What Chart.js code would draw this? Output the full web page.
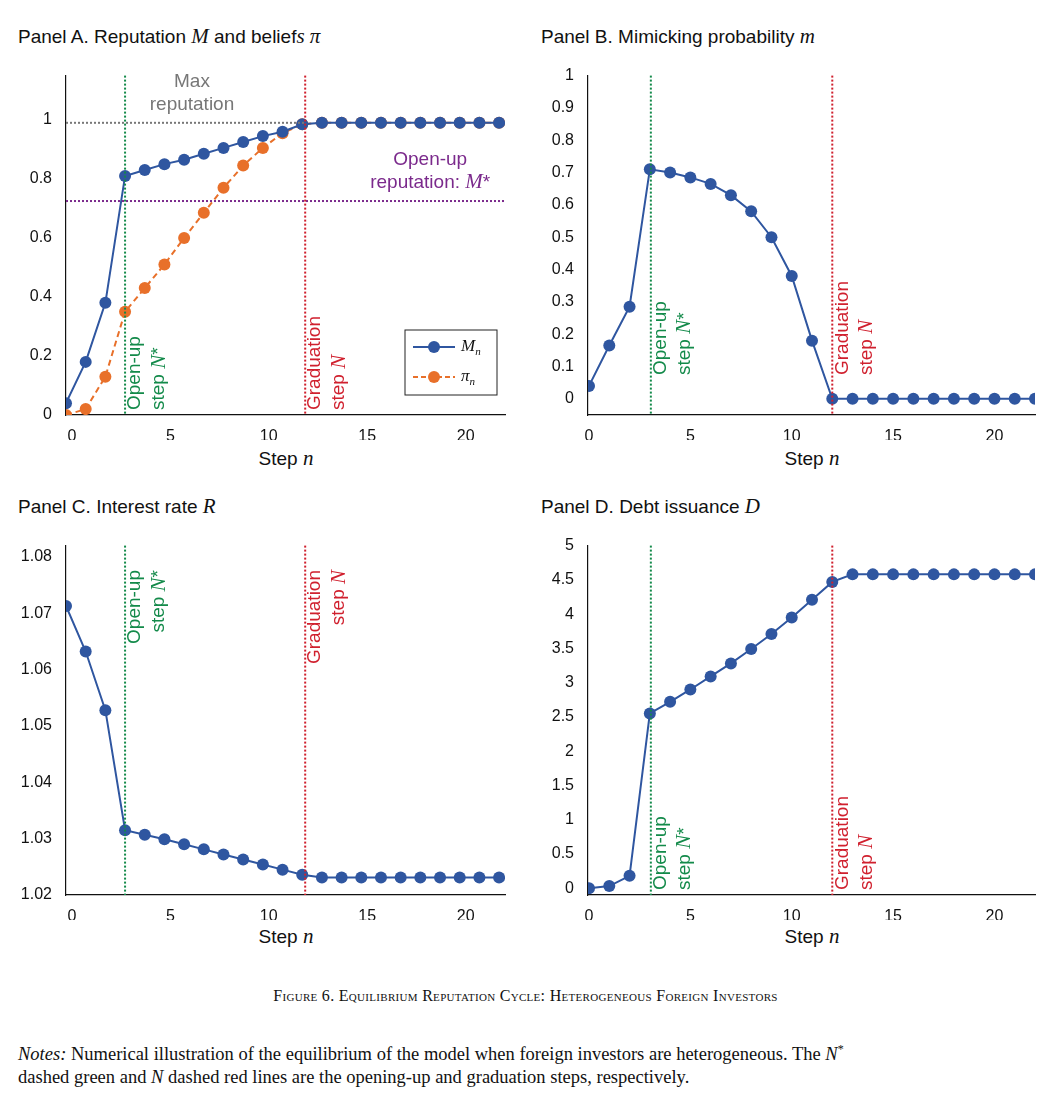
<!DOCTYPE html>
<html><head><meta charset="utf-8">
<script src="https://cdn.jsdelivr.net/npm/chart.js@4.4.1/dist/chart.umd.min.js"></script>
<style>
body{margin:0;background:#fff;font-family:"Liberation Sans",Arial,sans-serif;color:#111;width:1051px;height:1110px;position:relative;overflow:hidden}
canvas{position:absolute}
.t{position:absolute;font-size:19px;white-space:nowrap}
.m{font-family:"Liberation Serif",serif;font-style:italic;font-size:21px}
.xl{position:absolute;font-size:19px;text-align:center;width:200px}
.cap{position:absolute;left:0;width:1051px;top:987px;text-align:center;font-family:"Liberation Serif",serif;font-size:16px;font-variant:small-caps;letter-spacing:0.3px}
.notes{position:absolute;left:18px;top:1038px;font-family:"Liberation Serif",serif;font-size:18.5px;line-height:23px;width:1000px}
</style></head><body>
<div class="t" style="left:18px;top:24px">Panel A. Reputation <span class="m">M</span> and belief<span class="m">s π</span></div>
<div class="t" style="left:541px;top:24px">Panel B. Mimicking probability <span class="m">m</span></div>
<div class="t" style="left:18px;top:494px">Panel C. Interest rate <span class="m">R</span></div>
<div class="t" style="left:541px;top:494px">Panel D. Debt issuance <span class="m">D</span></div>
<div class="xl" style="left:186px;top:446px">Step <span class="m">n</span></div>
<div class="xl" style="left:712px;top:446px">Step <span class="m">n</span></div>
<div class="xl" style="left:186px;top:924px">Step <span class="m">n</span></div>
<div class="xl" style="left:712px;top:924px">Step <span class="m">n</span></div>
<div class="cap">Figure 6. Equilibrium Reputation Cycle: Heterogeneous Foreign Investors</div>
<div class="notes"><i>Notes:</i> Numerical illustration of the equilibrium of the model when foreign investors are heterogeneous. The <i>N</i><sup style="font-size:12px">*</sup><br>dashed green and <i>N</i> dashed red lines are the opening-up and graduation steps, respectively.</div>
<canvas id="cA" style="left:0;top:60px;width:520px;height:380px" width="520" height="380"></canvas>
<canvas id="cB" style="left:522px;top:60px;width:528px;height:380px" width="528" height="380"></canvas>
<canvas id="cC" style="left:0;top:530px;width:520px;height:390px" width="520" height="390"></canvas>
<canvas id="cD" style="left:522px;top:530px;width:528px;height:390px" width="528" height="390"></canvas>
<script>
const steps=[0,1,2,3,4,5,6,7,8,9,10,11,12,13,14,15,16,17,18,19,20,21,22];
const xTicks=[0,5,10,15,20];
const yTicksA=[0,0.2,0.4,0.6,0.8,1];
const yTicksB=[0,0.1,0.2,0.3,0.4,0.5,0.6,0.7,0.8,0.9,1];
const yTicksC=[1.02,1.03,1.04,1.05,1.06,1.07,1.08];
const yTicksD=[0,0.5,1,1.5,2,2.5,3,3.5,4,4.5,5];
const reputationM=[0.04,0.18,0.38,0.81,0.83,0.85,0.865,0.885,0.905,0.925,0.945,0.96,0.985,0.99,0.99,0.99,0.99,0.99,0.99,0.99,0.99,0.99,0.99];
const beliefsPi=[0,0.02,0.13,0.35,0.43,0.51,0.60,0.685,0.77,0.845,0.905,0.955,0.985,0.99,0.99,0.99,0.99,0.99,0.99,0.99,0.99,0.99,0.99];
const mimicking=[0.04,0.165,0.285,0.71,0.70,0.685,0.665,0.63,0.58,0.50,0.38,0.18,0,0,0,0,0,0,0,0,0,0,0];
const interest=[1.0713,1.0632,1.0528,1.0315,1.0307,1.0299,1.0290,1.0281,1.0272,1.0263,1.0254,1.0245,1.0236,1.0231,1.0231,1.0231,1.0231,1.0231,1.0231,1.0231,1.0231,1.0231,1.0231];
const debt=[0,0.03,0.18,2.55,2.72,2.90,3.09,3.28,3.49,3.71,3.95,4.21,4.47,4.58,4.58,4.58,4.58,4.58,4.58,4.58,4.58,4.58,4.58];
const shiftAC=-0.3;
const BLUE='#2f56a0',ORANGE='#e8702a',GREEN='#138a4a',RED='#d0202e',PURPLE='#7b2a8c',GREY='#777';
const F='"Liberation Sans",Arial,sans-serif';
function pts(vals,sh){return vals.map((v,i)=>({x:steps[i]+sh,y:v}));}
function segText(ctx,segs,x,y,align){
  let w=0;segs.forEach(s=>{ctx.font=s[1]?'italic 21px "Liberation Serif",serif':'19px '+F;w+=ctx.measureText(s[0]).width;});
  let cx=align==='center'?x-w/2:(align==='right'?x-w:x);
  segs.forEach(s=>{ctx.font=s[1]?'italic 21px "Liberation Serif",serif':'19px '+F;ctx.textAlign='left';ctx.fillText(s[0],cx,y);cx+=ctx.measureText(s[0]).width;});
}
const anno={id:'anno',afterDatasetsDraw(ch,a,o){
  const ctx=ch.ctx,xs=ch.scales.x,ys=ch.scales.y,ca=ch.chartArea;ctx.save();
  (o.hlines||[]).forEach(h=>{ctx.strokeStyle=h.c;ctx.lineWidth=2;ctx.setLineDash([2,2]);ctx.beginPath();const py=ys.getPixelForValue(h.y);ctx.moveTo(ca.left,py);ctx.lineTo(h.x2!=null?xs.getPixelForValue(h.x2):ca.right,py);ctx.stroke();});
  (o.vlines||[]).forEach(v=>{ctx.strokeStyle=v.c;ctx.lineWidth=2;ctx.setLineDash([2,2]);ctx.beginPath();const px=xs.getPixelForValue(v.x);ctx.moveTo(px,ca.top);ctx.lineTo(px,ca.bottom);ctx.stroke();
    ctx.setLineDash([]);ctx.fillStyle=v.c;ctx.textBaseline='middle';
    v.lines.forEach((ln,i)=>{ctx.save();ctx.translate(px+10+i*24,v.ty);ctx.rotate(-Math.PI/2);segText(ctx,ln,0,0,v.top?'right':'left');ctx.restore();});
  });
  ctx.setLineDash([]);
  (o.texts||[]).forEach(t=>{ctx.fillStyle=t.c;ctx.textBaseline='middle';t.lines.forEach((ln,i)=>segText(ctx,ln,xs.getPixelForValue(t.x),ys.getPixelForValue(t.y)+i*23,'center'));});
  if(o.legend){const L=o.legend;ctx.strokeStyle='#222';ctx.lineWidth=1;ctx.strokeRect(L.x,L.y,92,65);
    const items=[[BLUE,[],'M'],[ORANGE,[5,3],'π']];
    items.forEach((it,i)=>{const y=L.y+17+i*30;ctx.strokeStyle=it[0];ctx.lineWidth=2;ctx.setLineDash(it[1]);ctx.beginPath();ctx.moveTo(L.x+8,y);ctx.lineTo(L.x+50,y);ctx.stroke();ctx.setLineDash([]);
      ctx.fillStyle=it[0];ctx.beginPath();ctx.arc(L.x+29,y,6,0,7);ctx.fill();
      ctx.fillStyle='#111';ctx.font='italic 17px "Liberation Serif",serif';ctx.textAlign='left';ctx.fillText(it[2],L.x+56,y);
      ctx.font='italic 11px "Liberation Serif",serif';ctx.fillText('n',L.x+56+ctx.measureText(it[2]).width*1.55,y+5);});
  }
  ctx.restore();}};
function ds(vals,sh,color,dash){return{data:pts(vals,sh),borderColor:color,backgroundColor:color,borderWidth:2,borderDash:dash||[],pointRadius:6,pointHoverRadius:6,pointBorderWidth:0,tension:0};}
const OPEN=[['Open-up',0]],STEPN=[['step ',0],['N',1],['*',0]],GRAD=[['Graduation',0]],STEPG=[['step ',0],['N',1]];
function make(id,datasets,ymin,ymax,yTicks,dec,ann,padTop,xh){
  new Chart(document.getElementById(id),{type:'line',data:{datasets},
  options:{responsive:false,animation:false,layout:{padding:{top:padTop,right:15}},
   plugins:{legend:{display:false},tooltip:{enabled:false},anno:ann},
   scales:{x:{type:'linear',min:id==='cA'||id==='cC'?-0.3:-0.05,max:22,grid:{display:false},border:{color:'#111',width:1.2},
      afterBuildTicks:s=>{s.ticks=xTicks.map(v=>({value:v}));},
      ticks:{color:'#111',font:{family:F,size:16},padding:4,callback:v=>String(v)},afterFit:s=>{s.height=xh;}},
    y:{min:ymin,max:ymax,grid:{display:false},border:{color:'#111',width:1.2},
      afterBuildTicks:s=>{s.ticks=yTicks.map(v=>({value:v}));},
      ticks:{color:'#111',font:{family:F,size:16},padding:6,callback:v=>dec<0?String(v):v.toFixed(dec)},afterFit:s=>{s.width=66;}}}},
  plugins:[anno]});
}
make('cA',[ds(reputationM,shiftAC,BLUE),ds(beliefsPi,shiftAC,ORANGE,[6,4])],0,1.15,yTicksA,-1,
 {hlines:[{y:0.99,c:GREY,x2:11.8},{y:0.725,c:PURPLE}],
  vlines:[{x:2.7,c:GREEN,ty:350,lines:[OPEN,STEPN]},{x:11.85,c:RED,ty:350,lines:[GRAD,STEPG]}],
  texts:[{x:6.1,y:1.13,c:GREY,lines:[[['Max',0]],[['reputation',0]]]},{x:18.2,y:0.865,c:PURPLE,lines:[[['Open-up',0]],[['reputation: ',0],['M',1],['*',0]]]}],
  legend:{x:405,y:270}},8,25);
make('cB',[ds(mimicking,0,BLUE)],-0.05,1,yTicksB,-1,
 {vlines:[{x:3.05,c:GREEN,ty:315,lines:[OPEN,STEPN]},{x:12,c:RED,ty:315,lines:[GRAD,STEPG]}]},8,25);
make('cC',[ds(interest,shiftAC,BLUE)],1.02,1.082,yTicksC,2,
 {vlines:[{x:2.7,c:GREEN,ty:40,top:true,lines:[OPEN,STEPN]},{x:11.85,c:RED,ty:40,top:true,lines:[GRAD,STEPG]}]},10,25);
make('cD',[ds(debt,0,BLUE)],-0.1,5,yTicksD,-1,
 {vlines:[{x:3.05,c:GREEN,ty:360,lines:[OPEN,STEPN]},{x:12,c:RED,ty:360,lines:[GRAD,STEPG]}]},10,25);
</script></body></html>
